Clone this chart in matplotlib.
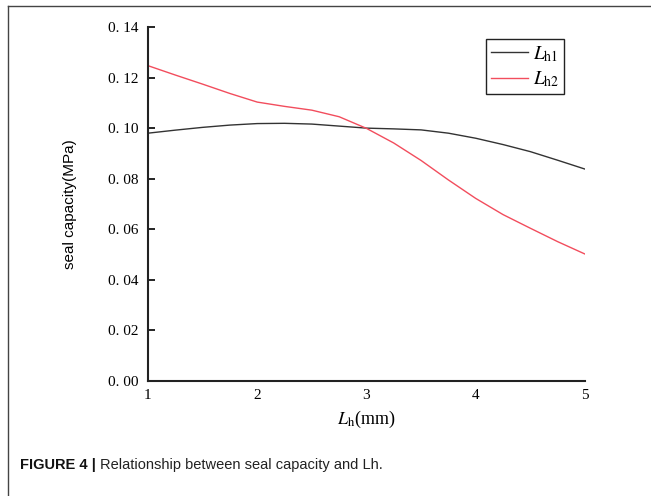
import matplotlib
matplotlib.use("Agg")
import matplotlib.pyplot as plt
from matplotlib.lines import Line2D

plt.rcParams['mathtext.fontset'] = 'stix'

# data
lh = [1.0, 1.25, 1.5, 1.75, 2.0, 2.25, 2.5, 2.75, 3.0,
      3.25, 3.5, 3.75, 4.0, 4.25, 4.5, 4.75, 5.0]
cap_lh1 = [0.0980, 0.0992, 0.1003, 0.1012, 0.1018, 0.1019, 0.1016, 0.1008, 0.1000,
           0.0997, 0.0993, 0.0980, 0.0960, 0.0935, 0.0907, 0.0873, 0.0838]
cap_lh2 = [0.1247, 0.1210, 0.1174, 0.1137, 0.1103, 0.1086, 0.1071, 0.1045, 0.0999,
           0.0941, 0.0872, 0.0795, 0.0722, 0.0658, 0.0604, 0.0551, 0.0502]
yticks = [0.00, 0.02, 0.04, 0.06, 0.08, 0.10, 0.12, 0.14]
ytick_labels = ['0. 00', '0. 02', '0. 04', '0. 06', '0. 08', '0. 10', '0. 12', '0. 14']
xticks = [1, 2, 3, 4, 5]

fig = plt.figure(figsize=(6.51, 4.96), dpi=100)
ax = fig.add_axes([0.2273, 0.2319, 0.6713, 0.7137])

ax.plot(lh, cap_lh1, color='#333333', lw=1.0, label=r'$L_{\mathrm{h1}}$')
ax.plot(lh, cap_lh2, color='#f24d5d', lw=1.0, label=r'$L_{\mathrm{h2}}$')

ax.set_xlim(1, 5)
ax.set_ylim(0, 0.14)
ax.set_xticks(xticks)
ax.set_xticklabels([str(t) for t in xticks], family='Liberation Serif', fontsize=11)
ax.set_yticks(yticks)
ax.set_yticklabels(ytick_labels, family='Liberation Serif', fontsize=11)
ax.tick_params(axis='y', direction='in', length=5, width=1.2, pad=7)
ax.tick_params(axis='x', length=0, pad=6)

for s in ['top', 'right']:
    ax.spines[s].set_visible(False)
for s in ['left', 'bottom']:
    ax.spines[s].set_linewidth(1.5)
    ax.spines[s].set_color('#222222')

ax.set_xlabel(r'$L_{\mathrm{h}}$(mm)', family='Liberation Serif', fontsize=13, labelpad=5)
ax.set_ylabel('seal capacity(MPa)', family='Liberation Sans', fontsize=11, labelpad=22)

leg = ax.legend(loc='upper right', bbox_to_anchor=(0.952, 0.966), fontsize=14,
                fancybox=False, framealpha=1, edgecolor='#222222',
                handlelength=1.9, handletextpad=0.25, borderpad=0.25,
                labelspacing=0.3, borderaxespad=0)
leg.get_frame().set_linewidth(1.0)

# page frame lines (top and left)
fig.add_artist(Line2D([8 / 651, 1.0], [1 - 6 / 496, 1 - 6 / 496],
                      transform=fig.transFigure, color='#444444', lw=1.0))
fig.add_artist(Line2D([8 / 651, 8 / 651], [0.0, 1 - 6 / 496],
                      transform=fig.transFigure, color='#444444', lw=1.0))

# caption
cap_y = 1 - 465 / 496
t1 = fig.text(20 / 651, cap_y, 'FIGURE 4 | ', family='Liberation Sans', fontsize=10.5,
              fontweight='bold', va='center', color='#111111')
fig.canvas.draw()
bb = t1.get_window_extent()
fig.text(bb.x1 / fig.bbox.width, cap_y, 'Relationship between seal capacity and Lh.',
         family='Liberation Sans', fontsize=10.5, va='center', color='#222222')

fig.savefig('out.png', dpi=100)
